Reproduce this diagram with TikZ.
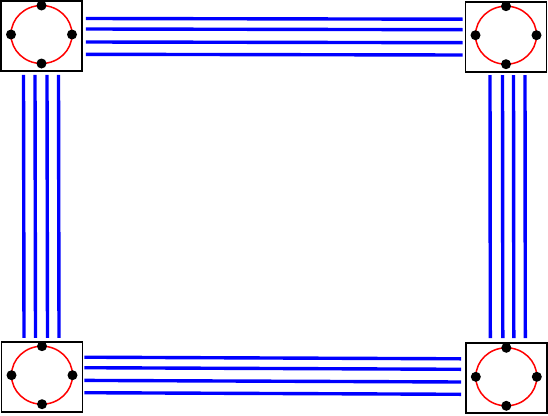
\documentclass[tikz,border=0pt]{standalone}
\usetikzlibrary{calc}
\begin{document}
\begin{tikzpicture}[x=1pt, y=-1pt,
    switchbox/.style={draw, line width=1.9pt, minimum width=81pt, minimum height=70pt, inner sep=0pt},
    ring/.style={red, line width=1.5pt},
    port/.style={fill=black},
    link/.style={blue, line width=3.4pt}]
    \useasboundingbox (0,0) rectangle (548,415);
    % Switches
    \node[switchbox] (tl) at (41.5,36) {};
    \node[switchbox] (tr) at (506,36.7) {};
    \node[switchbox] (bl) at (42,376.7) {};
    \node[switchbox] (br) at (506.3,378.3) {};

    % Rings with ports
    \foreach \n in {tl,tr,bl,br}{
        \draw[ring] ($(\n)+(0,-1.5)$) ellipse [x radius=30.5pt, y radius=29pt];
        \foreach \dx/\dy in {0/-30.5, 0/27.5, -30.5/-1.5, 30.5/-1.5}
            \fill[port] ($(\n)+(\dx,\dy)$) circle [radius=5pt];
    }

    % Links top and bottom
    \foreach \d in {-17.5,-7,6,18.3}
        \draw[link] ($(tl.east)+(3,\d)$) -- ($(tr.west)+(-2,\d)$);
    \foreach \d in {-19.5,-9,3.7,16}
        \draw[link] ($(bl.east)+(1,\d)$) -- ($(br.west)+(-3.7,\d)$);

    % Links left and right
    \foreach \d in {-18,-6.5,5.5,17}
        \draw[link] ($(tl.south)+(\d,3)$) -- ($(bl.north)+(\d,-3)$);
    \foreach \d in {-16,-3.5,7.5,19}
        \draw[link] ($(tr.south)+(\d,2.5)$) -- ($(br.north)+(\d,-4.3)$);
\end{tikzpicture}
\end{document}
